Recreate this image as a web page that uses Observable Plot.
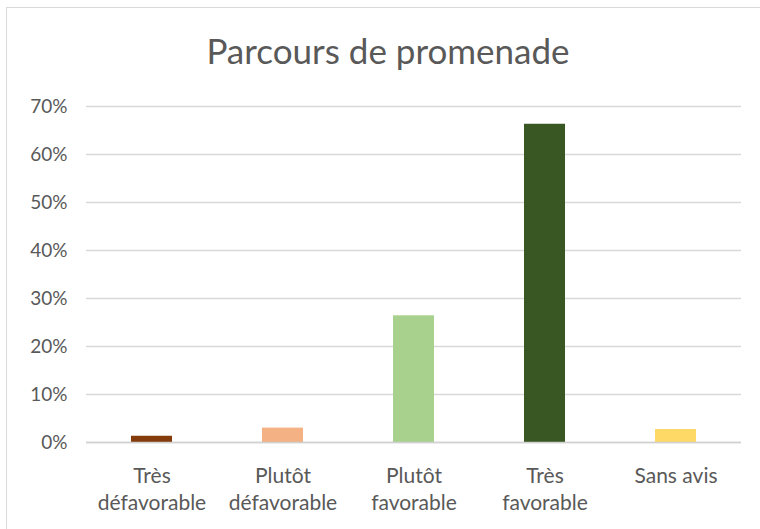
<!DOCTYPE html>
<html>
<head>
<meta charset="utf-8">
<script src="https://cdn.jsdelivr.net/npm/d3@7"></script>
<script src="https://cdn.jsdelivr.net/npm/@observablehq/plot@0.6"></script>
<style>
  html, body { margin: 0; padding: 0; background: #fff; }
  #frame { position: relative; width: 760px; height: 529px; overflow: hidden; background: #fff; }
  #border { position: absolute; left: 6px; top: 7px; width: 800px; height: 600px; border: 1px solid #d9d9d9; box-sizing: border-box; }
  #title { position: absolute; left: 0; top: 28px; width: 776px; text-align: center; font-family: Lato, "Liberation Sans", sans-serif; font-size: 35px; color: #595959; line-height: 44px; }
  #chart { position: absolute; left: 0; top: 90px; }
</style>
</head>
<body>
<div id="frame">
  <div id="border"></div>
  <div id="title">Parcours de promenade</div>
  <div id="chart"></div>
</div>
<script>
const categories = ["Très\ndéfavorable", "Plutôt\ndéfavorable", "Plutôt\nfavorable", "Très\nfavorable", "Sans avis"];
const values = [0.013, 0.030, 0.264, 0.663, 0.027];
const yTicks = [0, 0.1, 0.2, 0.3, 0.4, 0.5, 0.6, 0.7];
const palette = ["#843C0C", "#F4B183", "#A9D18E", "#385723", "#FFD966"];

const data = categories.map((c, i) => ({category: c, value: values[i]}));

const chart = Plot.plot({
  width: 760,
  height: 439,
  marginLeft: 86,
  marginRight: 19,
  marginTop: 16,
  marginBottom: 87,
  style: {fontFamily: 'Lato, "Liberation Sans", sans-serif', color: "#595959", background: "transparent"},
  x: {domain: categories, paddingInner: 0.69, paddingOuter: 0.345, label: null},
  y: {domain: [0, 0.7], label: null},
  color: {domain: categories, range: palette},
  marks: [
    Plot.gridY(yTicks, {stroke: "#d9d9d9", strokeOpacity: 1, strokeWidth: 1.5}),
    Plot.barY(data, {x: "category", y: "value", fill: "category"}),
    Plot.ruleY([0], {stroke: "#d0d0d0", strokeWidth: 1.5}),
    Plot.axisY(yTicks, {tickSize: 0, tickPadding: 19, tickFormat: d3.format(".0%"), fontSize: 19, fill: "#595959", label: null}),
    Plot.axisX({tickSize: 0, tickPadding: 21, fontSize: 21, lineHeight: 1.3, fill: "#595959", label: null})
  ]
});
document.getElementById("chart").appendChild(chart);
</script>
</body>
</html>
